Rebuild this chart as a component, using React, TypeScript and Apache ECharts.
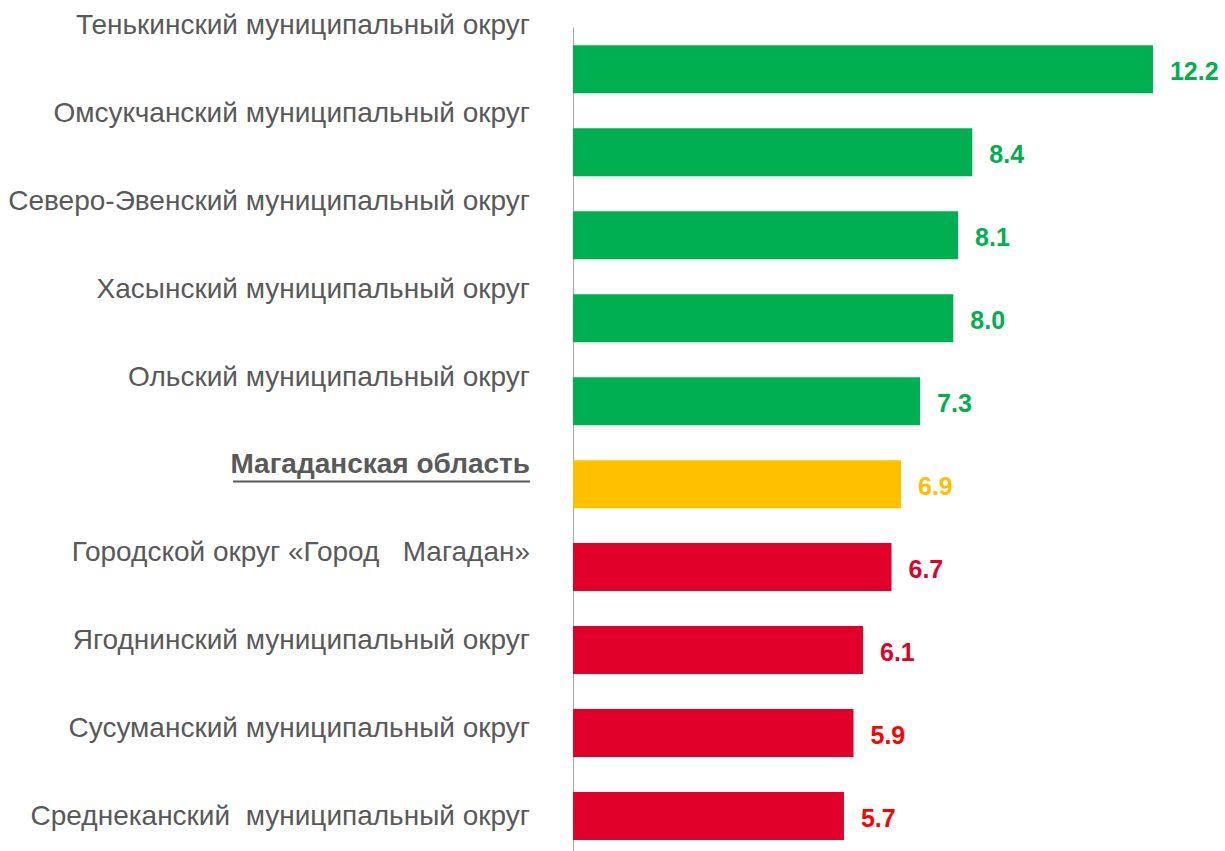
import React, { useEffect, useRef } from "react";
import * as echarts from "echarts";

const categories = [
  "Тенькинский муниципальный округ",
  "Омсукчанский муниципальный округ",
  "Северо-Эвенский муниципальный округ",
  "Хасынский муниципальный округ",
  "Ольский муниципальный округ",
  "Магаданская область",
  "Городской округ «Город   Магадан»",
  "Ягоднинский муниципальный округ",
  "Сусуманский муниципальный округ",
  "Среднеканский  муниципальный округ",
];
const values = [12.2, 8.4, 8.1, 8.0, 7.3, 6.9, 6.7, 6.1, 5.9, 5.7];
const barColors = [
  "#00B050", "#00B050", "#00B050", "#00B050", "#00B050",
  "#FFC000", "#E0002A", "#E0002A", "#E0002A", "#E0002A",
];
const labelColors = [
  "#00B050", "#00B050", "#00B050", "#00B050", "#00B050",
  "#FFC000", "#E0002A", "#E0002A", "#FF0000", "#FF0000",
];
const highlightIndex = 5;

const FONT = "'Liberation Sans', Arial, sans-serif";

export default function App() {
  const ref = useRef<HTMLDivElement>(null);
  useEffect(() => {
    if (!ref.current) return;
    const chart = echarts.init(ref.current, undefined, { renderer: "svg" });
    chart.setOption({
      animation: false,
      backgroundColor: "#ffffff",
      textStyle: { fontFamily: FONT },
      grid: [
        { left: 573, top: 27.8, width: 618, height: 829.7, containLabel: false },
        { left: 538, top: 24.5, width: 1, height: 791, containLabel: false },
      ],
      xAxis: [
        { type: "value", gridIndex: 0, min: 0, max: 13, show: false },
        { type: "value", gridIndex: 1, min: 0, max: 1, show: false },
      ],
      yAxis: [
        {
          type: "category",
          gridIndex: 0,
          inverse: true,
          data: categories,
          axisLabel: { show: false },
          axisTick: { show: false },
          axisLine: { show: true, lineStyle: { color: "#A6A6A6", width: 1 } },
          splitLine: { show: false },
        },
        {
          type: "category",
          gridIndex: 1,
          inverse: true,
          boundaryGap: false,
          data: categories,
          axisTick: { show: false },
          axisLine: { show: false },
          splitLine: { show: false },
          axisLabel: {
            margin: 8,
            formatter: (v: string, i: number) =>
              i === highlightIndex ? `{b|${v}}` : `{n|${v}}`,
            rich: {
              n: { fontSize: 28, color: "#595959", fontFamily: FONT },
              b: { fontSize: 28, color: "#595959", fontWeight: "bold", fontFamily: FONT },
            },
          },
        },
      ],
      series: [
        {
          type: "bar",
          xAxisIndex: 0,
          yAxisIndex: 0,
          barWidth: 48,
          data: values.map((v, i) => ({
            value: v,
            itemStyle: { color: barColors[i] },
            label: { color: labelColors[i] },
          })),
          label: {
            show: true,
            position: "right",
            distance: 17,
            offset: [0, 2],
            fontSize: 25,
            fontWeight: "bold",
            fontFamily: FONT,
            formatter: (p: any) => Number(p.value).toFixed(1),
          },
        },
      ],
      graphic: [
        {
          type: "line",
          shape: { x1: 233, y1: 481.5, x2: 530, y2: 481.5 },
          style: { stroke: "#595959", lineWidth: 2 },
        },
      ],
    });
    return () => chart.dispose();
  }, []);
  return (
    <div
      style={{
        position: "absolute",
        left: 0,
        top: 0,
        width: 1225,
        height: 851,
        overflow: "hidden",
      }}
    >
      <div ref={ref} style={{ width: 1225, height: 880 }} />
    </div>
  );
}
